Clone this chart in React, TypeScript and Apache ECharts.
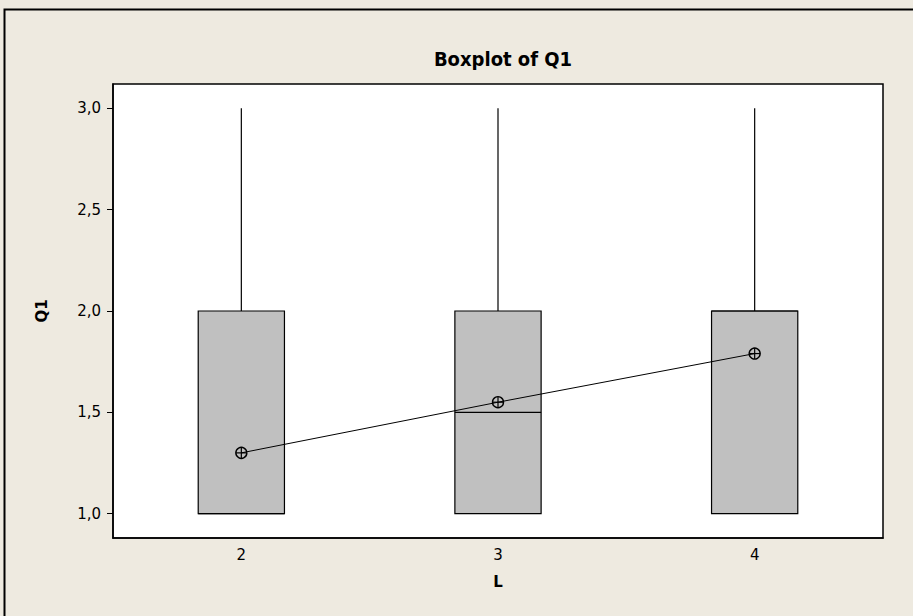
import React, { useEffect, useRef } from "react";
import * as echarts from "echarts";

const categories = ["2", "3", "4"];
const minValues = [1, 1, 1];
const q1Values = [1, 1, 1];
const medianValues = [1, 1.5, 2];
const q3Values = [2, 2, 2];
const maxValues = [3, 3, 3];
const meanValues = [1.3, 1.55, 1.79];
const yTicks = [1, 1.5, 2, 2.5, 3];

const FONT = "'DejaVu Sans', Verdana, sans-serif";
const TITLE_FONT = "'DejaVu Sans Condensed', 'Liberation Sans Narrow', 'Open Sans', sans-serif";

export default function App() {
  const ref = useRef<HTMLDivElement>(null);
  useEffect(() => {
    if (!ref.current) return;
    const chart = echarts.init(ref.current, null, { renderer: "svg" });
    const boxData = categories.map((_, i) => [i, minValues[i], q1Values[i], medianValues[i], q3Values[i], maxValues[i]]);
    const meanData = categories.map((_, i) => [i, meanValues[i]]);
    chart.setOption({
      animation: false,
      backgroundColor: "#EEEAE0",
      title: {
        text: "Boxplot of Q1",
        left: 498,
        top: 44,
        textAlign: "center",
        textStyle: { fontFamily: TITLE_FONT, fontWeight: "bold", fontSize: 20, color: "#000" },
      },
      graphic: [
        {
          type: "rect",
          shape: { x: 4.5, y: 9.5, width: 1200, height: 1200 },
          style: { fill: "none", stroke: "#000", lineWidth: 2 },
          silent: true,
        },
      ],
      grid: {
        left: 113,
        right: 30,
        top: 84,
        bottom: 78,
        show: true,
        backgroundColor: "#fff",
        borderColor: "#000",
        borderWidth: 1.5,
      },
      xAxis: {
        type: "category",
        data: categories,
        name: "L",
        nameLocation: "middle",
        nameGap: 36,
        nameTextStyle: { fontFamily: FONT, fontWeight: "bold", fontSize: 15, color: "#000" },
        axisLine: { lineStyle: { color: "#000", width: 1.5 } },
        axisTick: { alignWithLabel: true, length: 6, lineStyle: { color: "#000" } },
        axisLabel: { fontFamily: FONT, fontSize: 15, color: "#000", margin: 9 },
        splitLine: { show: false },
      },
      yAxis: {
        type: "value",
        min: 0.88,
        max: 3.12,
        name: "Q1",
        nameLocation: "middle",
        nameGap: 64,
        nameRotate: 90,
        nameTextStyle: { fontFamily: FONT, fontWeight: "bold", fontSize: 15, color: "#000" },
        axisLine: { show: true, lineStyle: { color: "#000", width: 1.5 } },
        axisTick: { show: true, length: 6, customValues: yTicks, lineStyle: { color: "#000" } },
        axisLabel: {
          fontFamily: FONT,
          fontSize: 15,
          color: "#000",
          margin: 12,
          customValues: yTicks,
          formatter: (v: number) => v.toFixed(1).replace(".", ","),
        },
        splitLine: { show: false },
      },
      series: [
        {
          type: "custom",
          z: 2,
          data: boxData,
          encode: { x: 0, y: [1, 2, 3, 4, 5] },
          renderItem: (params: any, api: any) => {
            const x = api.value(0);
            const mn = api.value(1), q1 = api.value(2), md = api.value(3), q3 = api.value(4), mx = api.value(5);
            const bw = api.size([1, 0])[0] * 0.336;
            const pQ1 = api.coord([x, q1]);
            const pQ3 = api.coord([x, q3]);
            const pMd = api.coord([x, md]);
            const pMn = api.coord([x, mn]);
            const pMx = api.coord([x, mx]);
            const cx = pQ1[0];
            const children: any[] = [];
            if (mx > q3) {
              children.push({ type: "line", shape: { x1: cx, y1: pQ3[1], x2: cx, y2: pMx[1] }, style: { stroke: "#000", lineWidth: 1.2 } });
            }
            if (mn < q1) {
              children.push({ type: "line", shape: { x1: cx, y1: pQ1[1], x2: cx, y2: pMn[1] }, style: { stroke: "#000", lineWidth: 1.2 } });
            }
            children.push({
              type: "rect",
              shape: { x: cx - bw / 2, y: pQ3[1], width: bw, height: pQ1[1] - pQ3[1] },
              style: { fill: "#C0C0C0", stroke: "#000", lineWidth: 1.2 },
            });
            children.push({ type: "line", shape: { x1: cx - bw / 2, y1: pMd[1], x2: cx + bw / 2, y2: pMd[1] }, style: { stroke: "#000", lineWidth: 1.2 } });
            return { type: "group", children };
          },
        },
        {
          type: "line",
          z: 3,
          data: meanValues,
          symbol: "none",
          lineStyle: { color: "#000", width: 1 },
        },
        {
          type: "custom",
          z: 4,
          data: meanData,
          encode: { x: 0, y: 1 },
          renderItem: (params: any, api: any) => {
            const p = api.coord([api.value(0), api.value(1)]);
            const r = 5.5;
            return {
              type: "group",
              children: [
                { type: "circle", shape: { cx: p[0], cy: p[1], r }, style: { fill: "none", stroke: "#000", lineWidth: 1.4 } },
                { type: "line", shape: { x1: p[0] - r, y1: p[1], x2: p[0] + r, y2: p[1] }, style: { stroke: "#000", lineWidth: 1.2 } },
                { type: "line", shape: { x1: p[0], y1: p[1] - r, x2: p[0], y2: p[1] + r }, style: { stroke: "#000", lineWidth: 1.2 } },
              ],
            };
          },
        },
      ],
    });
    return () => chart.dispose();
  }, []);
  return <div ref={ref} style={{ width: 913, height: 616, position: "fixed", left: 0, top: 0 }} />;
}
